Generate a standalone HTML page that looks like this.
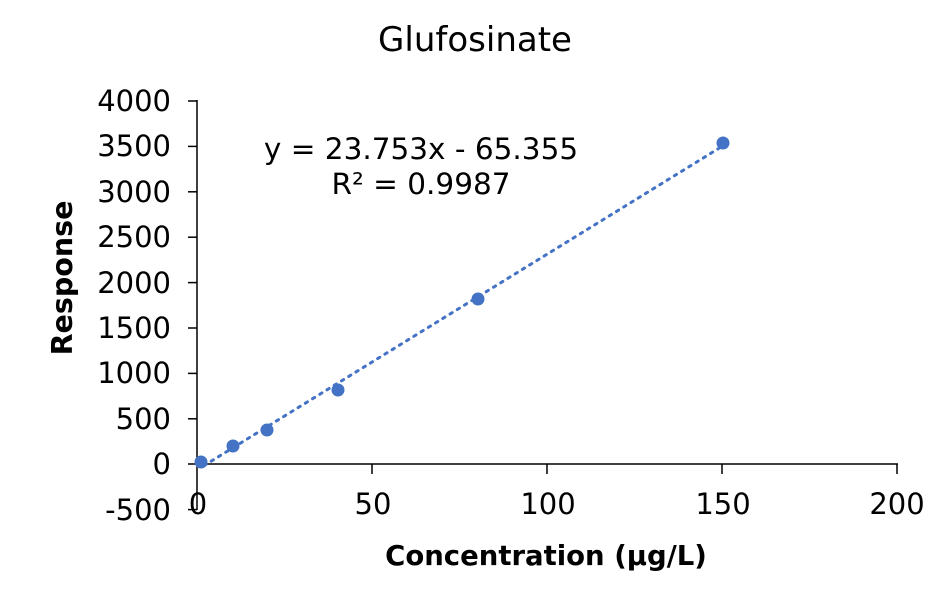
<!DOCTYPE html>
<html><head><meta charset="utf-8"><style>
body{margin:0;background:#fff;}
svg{display:block;font-family:"DejaVu Sans","Liberation Sans",sans-serif;}
</style></head><body>
<svg width="950" height="589" viewBox="0 0 950 589" xmlns="http://www.w3.org/2000/svg">
<rect width="950" height="589" fill="#fff"/>
<text x="475" y="51" font-size="34" text-anchor="middle" fill="#000">Glufosinate</text>
<g stroke="#000" stroke-width="1.5" fill="none">
<line x1="197" y1="100" x2="197" y2="510"/>
<line x1="197" y1="464" x2="898" y2="464"/>
<line x1="188" y1="101" x2="197" y2="101"/>
<line x1="188" y1="146.4" x2="197" y2="146.4"/>
<line x1="188" y1="191.8" x2="197" y2="191.8"/>
<line x1="188" y1="237.2" x2="197" y2="237.2"/>
<line x1="188" y1="282.6" x2="197" y2="282.6"/>
<line x1="188" y1="328" x2="197" y2="328"/>
<line x1="188" y1="373.4" x2="197" y2="373.4"/>
<line x1="188" y1="418.8" x2="197" y2="418.8"/>
<line x1="188" y1="464" x2="197" y2="464"/>
<line x1="188" y1="509.6" x2="197" y2="509.6"/>
<line x1="372" y1="464" x2="372" y2="474"/>
<line x1="547" y1="464" x2="547" y2="474"/>
<line x1="722" y1="464" x2="722" y2="474"/>
<line x1="897" y1="464" x2="897" y2="474"/>
</g>
<g font-size="29" text-anchor="end" fill="#000">
<text x="171" y="111">4000</text>
<text x="171" y="156">3500</text>
<text x="171" y="202">3000</text>
<text x="171" y="247">2500</text>
<text x="171" y="293">2000</text>
<text x="171" y="338">1500</text>
<text x="171" y="383">1000</text>
<text x="171" y="429">500</text>
<text x="171" y="474">0</text>
<text x="171" y="520">-500</text>
</g>
<g font-size="29" text-anchor="middle" fill="#000">
<text x="198" y="514">0</text>
<text x="373" y="514">50</text>
<text x="548" y="514">100</text>
<text x="723" y="514">150</text>
<text x="897" y="514">200</text>
</g>
<text x="546" y="565" font-size="27.5" font-weight="bold" text-anchor="middle" fill="#000">Concentration (μg/L)</text>
<text transform="translate(72,278) rotate(-90)" font-size="28.5" font-weight="bold" text-anchor="middle" fill="#000">Response</text>
<line x1="204" y1="465.6" x2="722" y2="146.4" stroke="#4472c4" stroke-width="3" stroke-dasharray="2.5 6" stroke-linecap="round"/>
<g fill="#4472c4">
<circle cx="201" cy="462" r="6.5"/>
<circle cx="233" cy="446" r="6.5"/>
<circle cx="267" cy="430" r="6.5"/>
<circle cx="338" cy="390" r="6.5"/>
<circle cx="478" cy="299" r="6.5"/>
<circle cx="723" cy="143" r="6.5"/>
</g>
<g font-size="29.5" text-anchor="middle" fill="#000">
<text x="421" y="159">y = 23.753x - 65.355</text>
<text x="421" y="194">R² = 0.9987</text>
</g>
</svg>
</body></html>
